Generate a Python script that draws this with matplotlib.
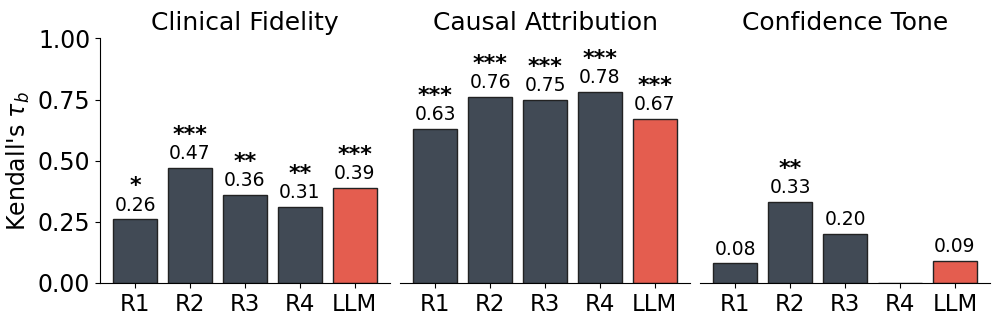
import numpy as np
import matplotlib.pyplot as plt

# Data
raters = ['R1', 'R2', 'R3', 'R4', 'LLM']
panels = ['Clinical Fidelity', 'Causal Attribution', 'Confidence Tone']
fidelity = [0.26, 0.47, 0.36, 0.31, 0.39]
causal = [0.63, 0.76, 0.75, 0.78, 0.67]
tone = [0.08, 0.33, 0.20, 0.0, 0.09]
fidelity_sig = ['*', '***', '**', '**', '***']
causal_sig = ['***', '***', '***', '***', '***']
tone_sig = ['', '**', '', '', '']

values = [fidelity, causal, tone]
stars = [fidelity_sig, causal_sig, tone_sig]

dark = '#414a55'
red = '#e45d4f'

fig, axes = plt.subplots(1, 3, figsize=(9.97, 3.23), dpi=100, sharey=True)
plt.subplots_adjust(left=0.1003, right=0.993, bottom=0.124, top=0.881, wspace=0.035)

x = np.arange(len(raters))
for i, ax in enumerate(axes):
    vals = values[i]
    colors = [red if r == 'LLM' else dark for r in raters]
    ax.bar(x, vals, width=0.8, color=colors, edgecolor='#222222', linewidth=1)
    for xi, v, s in zip(x, vals, stars[i]):
        if v > 0:
            ax.annotate(f'{v:.2f}', (xi, v), xytext=(0, 3.5), textcoords='offset points',
                        ha='center', va='bottom', fontsize=13.5)
        if s:
            # stars sit just above the number
            ax.annotate(s, (xi, v), xytext=(0, 16.5), textcoords='offset points',
                        ha='center', va='bottom', fontsize=16, fontweight='bold')
    ax.set_title(panels[i], fontsize=18)
    ax.set_xticks(x)
    ax.set_xticklabels(raters, fontsize=16.5)
    ax.spines['top'].set_visible(False)
    ax.spines['right'].set_visible(False)
    if i > 0:
        ax.spines['left'].set_visible(False)
        ax.tick_params(axis='y', left=False)

axes[0].set_ylim(0, 1)
axes[0].set_yticks([0, 0.25, 0.5, 0.75, 1.0])
axes[0].set_yticklabels(['0.00', '0.25', '0.50', '0.75', '1.00'], fontsize=17)
axes[0].set_ylabel(r"Kendall's $\tau_b$", fontsize=17)

plt.savefig('out.png', dpi=100)
